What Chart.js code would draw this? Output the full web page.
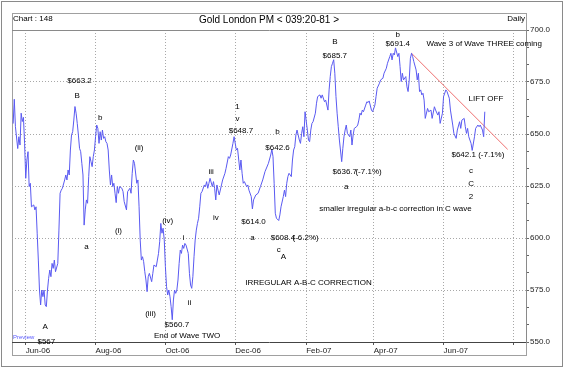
<!DOCTYPE html>
<html>
<head>
<meta charset="utf-8">
<title>Gold London PM</title>
<script src="https://cdn.jsdelivr.net/npm/chart.js@4.4.1/dist/chart.umd.min.js"></script>
<style>
  html, body { margin: 0; padding: 0; background: #fff; }
  canvas { display: block; }
</style>
</head>
<body>
<canvas id="goldChart" width="564" height="368"></canvas>
<script>
// Gold London PM fix, daily closes (one line per month)
const goldDates = [
  '2006-05-21','2006-05-22','2006-05-23','2006-05-25','2006-05-26','2006-05-27','2006-05-28','2006-05-29','2006-05-30','2006-05-31',
  '2006-06-01','2006-06-02','2006-06-03','2006-06-04','2006-06-05','2006-06-06','2006-06-08','2006-06-09','2006-06-10','2006-06-11','2006-06-12','2006-06-13','2006-06-14','2006-06-15','2006-06-16','2006-06-17','2006-06-18','2006-06-19','2006-06-20','2006-06-21','2006-06-22','2006-06-23','2006-06-24','2006-06-25','2006-06-26','2006-06-27','2006-06-29','2006-06-30',
  '2006-07-01','2006-07-02','2006-07-03','2006-07-05','2006-07-06','2006-07-07','2006-07-08','2006-07-09','2006-07-10','2006-07-11','2006-07-12','2006-07-13','2006-07-14','2006-07-15','2006-07-16','2006-07-17','2006-07-18','2006-07-19','2006-07-20','2006-07-21','2006-07-22','2006-07-23','2006-07-24','2006-07-25','2006-07-26','2006-07-27','2006-07-28','2006-07-29','2006-07-30','2006-07-31',
  '2006-08-01','2006-08-02','2006-08-03','2006-08-04','2006-08-05','2006-08-06','2006-08-07','2006-08-08','2006-08-09','2006-08-10','2006-08-11','2006-08-12','2006-08-13','2006-08-14','2006-08-15','2006-08-16','2006-08-17','2006-08-18','2006-08-19','2006-08-20','2006-08-21','2006-08-22','2006-08-24','2006-08-25','2006-08-26','2006-08-28','2006-08-29','2006-08-31',
  '2006-09-01','2006-09-02','2006-09-03','2006-09-04','2006-09-06','2006-09-07','2006-09-08','2006-09-09','2006-09-10','2006-09-11','2006-09-12','2006-09-13','2006-09-14','2006-09-15','2006-09-16','2006-09-17','2006-09-19','2006-09-20','2006-09-21','2006-09-23','2006-09-24','2006-09-25','2006-09-26','2006-09-27','2006-09-28','2006-09-29','2006-09-30',
  '2006-10-01','2006-10-02','2006-10-03','2006-10-04','2006-10-05','2006-10-06','2006-10-07','2006-10-08','2006-10-09','2006-10-10','2006-10-11','2006-10-12','2006-10-13','2006-10-14','2006-10-15','2006-10-16','2006-10-17','2006-10-18','2006-10-19','2006-10-21','2006-10-22','2006-10-23','2006-10-24','2006-10-25','2006-10-26','2006-10-27','2006-10-28','2006-10-29','2006-10-30','2006-10-31',
  '2006-11-01','2006-11-02','2006-11-04','2006-11-05','2006-11-06','2006-11-07','2006-11-08','2006-11-09','2006-11-11','2006-11-12','2006-11-13','2006-11-14','2006-11-15','2006-11-16','2006-11-17','2006-11-19','2006-11-20','2006-11-22','2006-11-23','2006-11-25','2006-11-26','2006-11-27','2006-11-29','2006-11-30',
  '2006-12-02','2006-12-03','2006-12-05','2006-12-06','2006-12-07','2006-12-08','2006-12-09','2006-12-11','2006-12-12','2006-12-13','2006-12-15','2006-12-16','2006-12-17','2006-12-19','2006-12-21','2006-12-23','2006-12-25','2006-12-27','2006-12-30',
  '2007-01-01','2007-01-02','2007-01-03','2007-01-04','2007-01-05','2007-01-06','2007-01-08','2007-01-09','2007-01-10','2007-01-12','2007-01-13','2007-01-14','2007-01-15','2007-01-16','2007-01-17','2007-01-19','2007-01-20','2007-01-21','2007-01-22','2007-01-23','2007-01-24','2007-01-26','2007-01-27','2007-01-28','2007-01-29','2007-01-30','2007-01-31',
  '2007-02-02','2007-02-03','2007-02-04','2007-02-05','2007-02-06','2007-02-07','2007-02-09','2007-02-10','2007-02-11','2007-02-13','2007-02-14','2007-02-15','2007-02-17','2007-02-18','2007-02-20','2007-02-21','2007-02-22','2007-02-23','2007-02-24','2007-02-25','2007-02-26','2007-02-27','2007-02-28',
  '2007-03-01','2007-03-02','2007-03-04','2007-03-05','2007-03-06','2007-03-07','2007-03-08','2007-03-09','2007-03-11','2007-03-12','2007-03-13','2007-03-14','2007-03-15','2007-03-17','2007-03-18','2007-03-19','2007-03-20','2007-03-21','2007-03-22','2007-03-23','2007-03-25','2007-03-26','2007-03-27','2007-03-28','2007-03-30','2007-03-31',
  '2007-04-02','2007-04-03','2007-04-04','2007-04-06','2007-04-07','2007-04-09','2007-04-10','2007-04-12','2007-04-13','2007-04-15','2007-04-16','2007-04-17','2007-04-18','2007-04-19','2007-04-20','2007-04-22','2007-04-23','2007-04-24','2007-04-25','2007-04-26','2007-04-27','2007-04-29','2007-04-30',
  '2007-05-01','2007-05-02','2007-05-03','2007-05-04','2007-05-05','2007-05-06','2007-05-08','2007-05-09','2007-05-10','2007-05-11','2007-05-12','2007-05-13','2007-05-14','2007-05-15','2007-05-16','2007-05-18','2007-05-19','2007-05-21','2007-05-22','2007-05-24','2007-05-25','2007-05-27','2007-05-28','2007-05-29','2007-05-31',
  '2007-06-01','2007-06-03','2007-06-04','2007-06-06','2007-06-07','2007-06-09','2007-06-10','2007-06-12','2007-06-13','2007-06-15','2007-06-16','2007-06-17','2007-06-19','2007-06-20','2007-06-21','2007-06-22','2007-06-23','2007-06-25','2007-06-26','2007-06-28','2007-06-29',
  '2007-07-01','2007-07-02','2007-07-03','2007-07-05','2007-07-06','2007-07-07'
];
const goldPrices = [
  655.0, 666.7, 653.5, 643.0, 648.7, 644.7, 660.0, 656.0, 658.0, 645.5,
  628.7, 637.5, 641.5, 624.7, 626.3, 615.0, 615.9, 613.5, 615.0, 602.3, 589.4, 575.0, 567.8, 575.0, 571.8, 575.0, 567.8, 567.0, 575.0, 580.6, 584.6, 581.4, 587.8, 585.4, 589.4, 583.8, 587.8, 603.8,
  621.5, 623.0, 623.9, 627.9, 630.3, 627.9, 632.7, 630.3, 642.3, 649.5, 651.1, 656.7, 663.2, 660.0, 655.1, 649.5, 643.1, 641.5, 635.9, 630.3, 606.2, 613.5, 618.3, 616.7, 629.5, 639.1, 636.7, 634.3, 639.1, 642.3,
  648.7, 654.3, 652.7, 645.5, 651.1, 647.1, 651.9, 647.9, 648.7, 646.3, 645.5, 642.3, 632.7, 625.5, 630.3, 624.7, 626.3, 621.5, 617.0, 624.7, 621.5, 624.7, 623.9, 622.3, 617.5, 613.5, 622.3, 623.9,
  621.5, 631.1, 637.5, 635.9, 626.3, 627.9, 615.0, 599.0, 589.4, 591.0, 588.6, 583.8, 579.8, 574.2, 581.4, 583.0, 579.0, 583.0, 587.0, 586.2, 589.4, 592.6, 598.2, 607.0, 602.3, 604.7, 599.0,
  586.2, 576.6, 572.6, 575.0, 571.8, 567.0, 560.7, 570.2, 575.0, 573.4, 575.0, 579.8, 587.8, 594.2, 592.6, 596.6, 595.0, 597.4, 596.6, 592.6, 583.0, 577.4, 575.8, 581.4, 591.0, 599.0, 603.8, 607.0, 609.5, 615.0,
  621.5, 622.3, 625.5, 624.7, 627.1, 623.9, 626.3, 628.7, 624.7, 627.1, 623.9, 618.3, 625.5, 623.0, 620.7, 625.5, 627.9, 631.1, 633.5, 639.1, 638.3, 639.9, 645.5, 648.7,
  642.3, 643.1, 632.7, 637.5, 631.1, 626.3, 627.1, 624.7, 625.5, 623.0, 619.9, 614.0, 618.3, 620.7, 621.5, 624.7, 627.9, 631.9, 635.9,
  639.9, 642.6, 639.1, 626.3, 611.9, 609.5, 608.4, 611.1, 615.0, 619.9, 623.0, 619.9, 626.3, 629.5, 631.1, 629.5, 637.5, 642.3, 643.9, 649.5, 651.9, 647.1, 645.5, 650.3, 653.5, 648.7, 660.7,
  651.9, 647.1, 646.3, 651.9, 655.1, 655.9, 660.0, 664.8, 668.0, 668.8, 667.2, 668.8, 665.5, 666.3, 661.5, 671.2, 677.6, 682.4, 684.0, 685.7, 679.2, 668.0, 660.0,
  653.5, 647.1, 636.7, 643.1, 648.7, 651.9, 654.3, 650.3, 648.7, 651.9, 644.7, 649.5, 652.7, 653.5, 654.3, 656.7, 660.0, 659.1, 661.5, 660.7, 663.9, 665.5, 665.1, 665.9, 661.5, 660.7,
  663.9, 668.0, 672.0, 674.4, 676.0, 676.8, 679.2, 681.6, 684.0, 687.2, 688.8, 685.6, 688.8, 688.0, 691.4, 687.2, 688.8, 682.4, 675.2, 679.2, 676.0, 677.6, 672.7,
  670.4, 676.0, 686.4, 688.8, 687.2, 684.8, 680.8, 676.0, 679.2, 670.4, 671.2, 668.8, 669.6, 666.3, 657.5, 662.3, 660.7, 661.5, 657.5, 663.1, 661.5, 659.1, 660.7, 655.1, 660.0,
  668.0, 671.2, 670.4, 667.2, 661.5, 654.3, 650.3, 647.9, 651.9, 655.9, 652.7, 656.7, 657.5, 653.5, 650.3, 652.7, 648.7, 645.5, 642.1, 648.7, 652.7,
  654.3, 653.5, 654.3, 651.9, 648.7, 660.7
];

// falling resistance line drawn from the May 2007 top
const trendDates = ['2007-05-04', '2007-07-27'];
const trendPrices = [688.8, 642.6];

// axes
const xRange = ['2006-05-20', '2007-08-12'];
const xTickDates = ['2006-06-01', '2006-08-01', '2006-10-01', '2006-12-01', '2007-02-01', '2007-04-01', '2007-06-01', '2007-08-01'];
const xTickLabels = ['Jun-06', 'Aug-06', 'Oct-06', 'Dec-06', 'Feb-07', 'Apr-07', 'Jun-07', ''];
const yTickValues = [550, 575, 600, 625, 650, 675, 700];

// header
const chartNo = 'Chart : 148';
const chartTitle = 'Gold London PM < 039:20-81 >';
const chartPeriod = 'Daily';

// wave count notes, anchored at a date and a price
const waveNotes = [
  { text: '$663.2', date: '2006-07-18', price: 675.5 },
  { text: 'B', date: '2006-07-16', price: 668.3 },
  { text: 'b', date: '2006-08-05', price: 657.7 },
  { text: '(ii)', date: '2006-09-08', price: 643.3 },
  { text: 'a', date: '2006-07-24', price: 595.7 },
  { text: '(i)', date: '2006-08-21', price: 603.4 },
  { text: '(iv)', date: '2006-10-03', price: 608.2 },
  { text: 'i', date: '2006-10-17', price: 600.0 },
  { text: 'ii', date: '2006-10-22', price: 568.7 },
  { text: '(iii)', date: '2006-09-18', price: 563.5 },
  { text: '$560.7', date: '2006-10-11', price: 558.2 },
  { text: 'End of Wave TWO', date: '2006-10-20', price: 552.9 },
  { text: 'A', date: '2006-06-18', price: 557.2 },
  { text: '$567', date: '2006-06-19', price: 550.0 },
  { text: 'iii', date: '2006-11-10', price: 631.7 },
  { text: 'iv', date: '2006-11-14', price: 609.6 },
  { text: '1', date: '2006-12-03', price: 663.0 },
  { text: 'v', date: '2006-12-03', price: 657.2 },
  { text: '$648.7', date: '2006-12-06', price: 651.4 },
  { text: 'b', date: '2007-01-07', price: 651.0 },
  { text: '$642.6', date: '2007-01-07', price: 643.3 },
  { text: '$614.0', date: '2006-12-17', price: 607.7 },
  { text: 'a', date: '2006-12-16', price: 600.0 },
  { text: '$608.4', date: '2007-01-01', price: 600.0, align: 'left' },
  { text: '(-6.2%)', date: '2007-01-20', price: 600.0, align: 'left' },
  { text: 'c', date: '2007-01-08', price: 594.2 },
  { text: 'A', date: '2007-01-12', price: 590.9 },
  { text: 'IRREGULAR A-B-C CORRECTION', date: '2007-02-03', price: 578.4 },
  { text: 'smaller irregular a-b-c correction in C wave', date: '2007-04-20', price: 613.9 },
  { text: 'B', date: '2007-02-26', price: 694.2 },
  { text: '$685.7', date: '2007-02-26', price: 687.5 },
  { text: '$636.7', date: '2007-02-24', price: 631.7, align: 'left' },
  { text: '(-7.1%)', date: '2007-03-16', price: 631.7, align: 'left' },
  { text: 'a', date: '2007-03-08', price: 624.5 },
  { text: 'b', date: '2007-04-22', price: 697.6 },
  { text: '$691.4', date: '2007-04-22', price: 693.3 },
  { text: 'Wave 3 of Wave THREE coming', date: '2007-05-17', price: 693.3, align: 'left' },
  { text: 'LIFT OFF', date: '2007-07-08', price: 666.8 },
  { text: '$642.1 (-7.1%)', date: '2007-07-01', price: 639.9 },
  { text: 'c', date: '2007-06-25', price: 632.2 },
  { text: 'C', date: '2007-06-25', price: 626.0 },
  { text: '2', date: '2007-06-25', price: 619.7 }
];

const FONT = '"Liberation Sans", Arial, Helvetica, sans-serif';
Chart.defaults.font.family = FONT;
Chart.defaults.font.size = 8;

const toTime = (d) => Date.parse(d);

// frame, header strip and the hand written notes
const chartDecor = {
  id: 'chartDecor',
  beforeDraw(chart) {
    const { ctx, chartArea: a, width, height } = chart;
    ctx.save();
    ctx.fillStyle = '#fff';
    ctx.fillRect(0, 0, width, height);
    ctx.strokeStyle = '#8a8a8a';
    ctx.lineWidth = 1;
    ctx.strokeRect(1.5, 1.5, width - 3, height - 3);
    ctx.strokeStyle = '#a0a0a0';
    ctx.strokeRect(a.left + 0.5, a.top - 16.5, a.right - a.left, a.bottom - a.top + 30);
    ctx.restore();
  },
  afterDraw(chart) {
    const { ctx, chartArea: a, scales } = chart;
    ctx.save();

    // header strip
    ctx.strokeStyle = '#8a8a8a';
    ctx.beginPath();
    ctx.moveTo(a.left, a.top + 0.5);
    ctx.lineTo(a.right + 1, a.top + 0.5);
    ctx.stroke();

    ctx.fillStyle = '#000';
    ctx.textBaseline = 'middle';
    ctx.font = '8px ' + FONT;
    ctx.textAlign = 'left';
    ctx.fillText(chartNo, a.left + 1, a.top - 11);
    ctx.textAlign = 'right';
    ctx.fillText(chartPeriod, a.right - 1, a.top - 11);
    ctx.font = '10px ' + FONT;
    ctx.textAlign = 'center';
    ctx.fillText(chartTitle, (a.left + a.right) / 2, a.top - 10);

    // wave notes
    ctx.font = '8px ' + FONT;
    waveNotes.forEach((n) => {
      ctx.textAlign = n.align || 'center';
      ctx.fillText(n.text, scales.x.getPixelForValue(toTime(n.date)), scales.y.getPixelForValue(n.price));
    });

    // small watermark in the corner
    ctx.fillStyle = '#5a5aff';
    ctx.font = '6px ' + FONT;
    ctx.textAlign = 'left';
    ctx.fillText('Preview', a.left + 1, a.bottom - 5);

    ctx.restore();
  }
};

new Chart(document.getElementById('goldChart'), {
  type: 'line',
  data: {
    datasets: [
      {
        data: goldDates.map((d, i) => ({ x: toTime(d), y: goldPrices[i] })),
        borderColor: '#5a5af2',
        borderWidth: 1,
        pointRadius: 0,
        tension: 0
      },
      {
        data: trendDates.map((d, i) => ({ x: toTime(d), y: trendPrices[i] })),
        borderColor: '#ef7070',
        borderWidth: 1,
        pointRadius: 0
      }
    ]
  },
  options: {
    responsive: false,
    animation: false,
    layout: { padding: { left: 12, top: 30, right: 0, bottom: 0 } },
    plugins: {
      legend: { display: false },
      tooltip: { enabled: false }
    },
    scales: {
      x: {
        type: 'linear',
        min: toTime(xRange[0]),
        max: toTime(xRange[1]),
        afterBuildTicks: (s) => {
          s.ticks = xTickDates.map((d) => ({ value: toTime(d) }));
        },
        afterFit: (s) => {
          s.height = 26;
          s.paddingLeft = 0;
          s.paddingRight = 0;
        },
        ticks: {
          autoSkip: false,
          maxRotation: 0,
          align: 'start',
          padding: 1,
          color: '#222',
          callback: (v, i) => xTickLabels[i]
        },
        grid: { color: '#a8a8a8', tickColor: '#555', tickLength: 3 },
        border: { color: '#444', width: 1, dash: [1, 2] }
      },
      y: {
        position: 'right',
        min: yTickValues[0],
        max: yTickValues[yTickValues.length - 1],
        // two minor ticks between labelled ones
        afterBuildTicks: (s) => {
          const ticks = [];
          yTickValues.forEach((v, i) => {
            ticks.push({ value: v });
            if (i < yTickValues.length - 1) {
              const step = (yTickValues[i + 1] - v) / 3;
              ticks.push({ value: v + step }, { value: v + 2 * step });
            }
          });
          s.ticks = ticks;
        },
        afterFit: (s) => {
          s.width = 38;
          s.paddingTop = 0;
          s.paddingBottom = 0;
        },
        ticks: {
          autoSkip: false,
          padding: 1,
          color: '#222',
          callback: (v, i) => (i % 3 === 0 ? v.toFixed(1) : '')
        },
        grid: {
          color: (c) => (c.index % 3 === 0 ? '#a8a8a8' : 'rgba(0,0,0,0)'),
          tickColor: '#666',
          tickLength: 3
        },
        border: { color: '#8a8a8a', width: 1, dash: [1, 2] }
      }
    }
  },
  plugins: [chartDecor]
});
</script>
</body>
</html>
